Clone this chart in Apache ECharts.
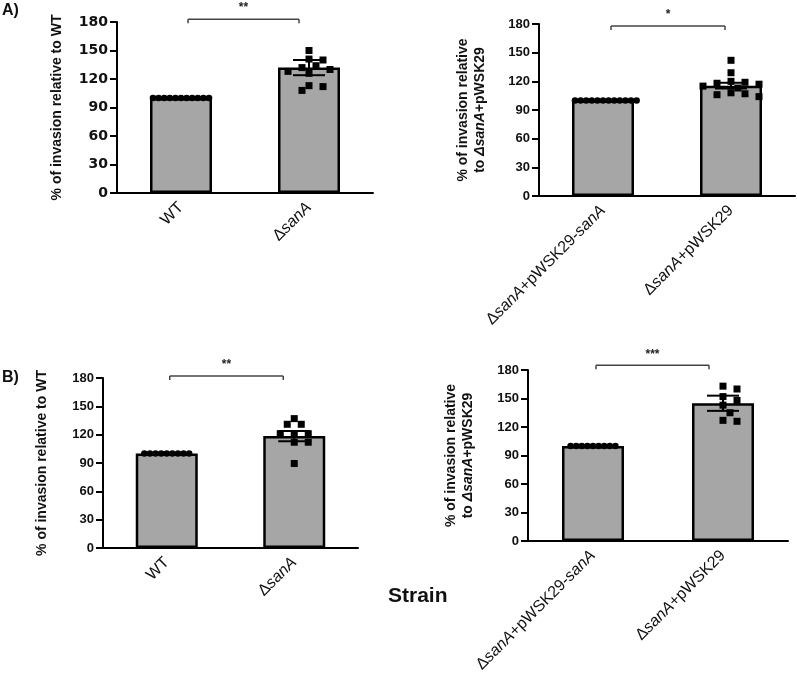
<!DOCTYPE html>
<html><head><meta charset="utf-8">
<script src="https://cdn.jsdelivr.net/npm/echarts@6/dist/echarts.min.js"></script>
<style>html,body{margin:0;padding:0;background:#fff}#c{width:797px;height:678px}</style>
</head><body><div id="c"></div>
<script>
// ---------- data ----------
const catsWT = ['WT', 'ΔsanA'];
const catsPl = ['ΔsanA+pWSK29-sanA', 'ΔsanA+pWSK29'];
const yTicksMax = 180;
const yTickStep = 30;

// Panel A left
const aLeftCtrl = [100,100,100,100,100,100,100,100,100,100,100];
const aLeftTrt  = [150,141,132,134,128,130,126,108,112,113,140];
const aLeftMean = [100,132];
const aLeftSem  = [0,8];
// Panel A right
const aRightCtrl = [100,100,100,100,100,100,100,100,100,100,100,100];
const aRightTrt  = [142,129,119,120,115,117,107,106,108,113,104,118];
const aRightMean = [100,115.5];
const aRightSem  = [0,3];
// Panel B left
const bLeftCtrl = [100,100,100,100,100,100,100,100,100];
const bLeftTrt  = [137,131,131,121,121,121,112,112,89.5];
const bLeftMean = [100,118.5];
const bLeftSem  = [0,5.5];
// Panel B right
const bRightCtrl = [100,100,100,100,100,100,100,100,100];
const bRightTrt  = [163,160,152,148,143,135,127,126];
const bRightMean = [100,145];
const bRightSem  = [0,8];

const sigLabels = ['**','*','**','***'];

// ---------- layout ----------
const FONT = 'Arial, "Liberation Sans", sans-serif';
const WIDE = '"DejaVu Sans", sans-serif';
const panels = [
  {grid:{left:117, top:22, width:256, height:171}, cats:catsWT, ctrl:aLeftCtrl, trt:aLeftTrt, mean:aLeftMean, sem:aLeftSem,
   tickFont:WIDE, tickSize:14,
   name:'{b|% of invasion relative to WT}', nameGap:51, br:{v:183, l:7, r:10}},
  {grid:{left:539, top:24, width:256, height:172}, cats:catsPl, ctrl:aRightCtrl, trt:aRightTrt, mean:aRightMean, sem:aRightSem,
   tickFont:FONT, tickSize:13,
   name:'{b|% of invasion relative}\n{b|to }{bi|Δ}{bi|sanA}{b|+pWSK29}', nameGap:50, br:{v:178, l:8, r:6}},
  {grid:{left:103, top:378, width:255, height:170}, cats:catsWT, ctrl:bLeftCtrl, trt:bLeftTrt, mean:bLeftMean, sem:bLeftSem,
   tickFont:FONT, tickSize:13,
   name:'{b|% of invasion relative to WT}', nameGap:52, br:{v:182, l:3, r:11}},
  {grid:{left:528, top:370, width:260, height:171}, cats:catsPl, ctrl:bRightCtrl, trt:bRightTrt, mean:bRightMean, sem:bRightSem,
   tickFont:FONT, tickSize:13,
   name:'{b|% of invasion relative}\n{b|to }{bi|Δ}{bi|sanA}{b|+pWSK29}', nameGap:51, br:{v:185, l:3, r:14}}
];

function catLabel(s){
  return s.split(/(sanA)/).filter(p=>p.length).map(p => p==='sanA' ? '{i|sanA}' : '{n|'+p+'}').join('');
}

// beeswarm offsets (pixel) computed from values
function swarm(vals, pxPerUnit, minDist, step){
  const placed = [];
  const out = new Array(vals.length);
  const order = vals.map((v,i)=>i).sort((a,b)=>vals[b]-vals[a]);
  for(const i of order){
    const y = vals[i]*pxPerUnit;
    for(let k=0;k<60;k++){
      const m = Math.ceil(k/2), sgn = (k%2===1)?1:-1;
      const ox = k===0?0:sgn*m*step;
      if(placed.every(p => Math.hypot(p[0]-ox, p[1]-y) >= minDist - 1e-6)){
        placed.push([ox,y]); out[i]=ox; break;
      }
    }
  }
  return out;
}

const grid=[], xAxis=[], yAxis=[], series=[];
panels.forEach((p,gi)=>{
  grid.push(p.grid);
  xAxis.push({type:'category', gridIndex:gi, data:p.cats,
    axisLine:{lineStyle:{color:'#000', width:2}},
    axisTick:{alignWithLabel:true, length:7, lineStyle:{color:'#000', width:2}},
    axisLabel:{rotate:45, margin:12, formatter: v=>catLabel(v),
      rich:{n:{fontFamily:FONT, fontSize:16, color:'#111'}, i:{fontFamily:FONT, fontSize:16, fontStyle:'italic', color:'#111'}}}
  });
  yAxis.push({type:'value', gridIndex:gi, min:0, max:yTicksMax, interval:yTickStep,
    name:p.name, nameLocation:'middle', nameGap:p.nameGap, nameRotate:90,
    nameTextStyle:{rich:{b:{fontFamily:FONT, fontSize:14, fontWeight:'bold', color:'#111', lineHeight:17},
                         bi:{fontFamily:FONT, fontSize:14, fontWeight:'bold', fontStyle:'italic', color:'#111', lineHeight:17}}},
    axisLine:{show:true, lineStyle:{color:'#000', width:2}},
    axisTick:{show:true, length:7, lineStyle:{color:'#000', width:2}},
    axisLabel:{fontFamily:p.tickFont, fontSize:p.tickSize, fontWeight:'bold', color:'#111', margin:9},
    splitLine:{show:false}
  });
  const pxPerUnit = p.grid.height/yTicksMax;
  series.push({type:'bar', xAxisIndex:gi, yAxisIndex:gi, data:p.mean, barWidth:62,
    itemStyle:{color:'#a6a6a6', borderColor:'#000', borderWidth:2.5}, z:2, silent:true});
  // error bars
  series.push({type:'custom', xAxisIndex:gi, yAxisIndex:gi, z:4,
    data:p.mean.map((m,i)=>[i,m,p.sem[i]]).filter(d=>d[2]>0),
    renderItem:(params,api)=>{
      const i=api.value(0), m=api.value(1), s=api.value(2);
      const t=api.coord([i,m+s]), b=api.coord([i,m-s]);
      const st={stroke:'#000', lineWidth:2};
      return {type:'group', children:[
        {type:'line', shape:{x1:t[0],y1:t[1],x2:b[0],y2:b[1]}, style:st},
        {type:'line', shape:{x1:t[0]-16,y1:t[1],x2:t[0]+16,y2:t[1]}, style:st},
        {type:'line', shape:{x1:b[0]-16,y1:b[1],x2:b[0]+16,y2:b[1]}, style:st}
      ]};
    }});
  // points
  const offC = swarm(p.ctrl, pxPerUnit, 5.6, 5.6);
  const offT = swarm(p.trt, pxPerUnit, 8, 7);
  const pts = p.ctrl.map((v,k)=>[0,v,offC[k],0]).concat(p.trt.map((v,k)=>[1,v,offT[k],1]));
  series.push({type:'custom', xAxisIndex:gi, yAxisIndex:gi, z:5, data:pts,
    renderItem:(params,api)=>{
      const c=api.coord([api.value(0),api.value(1)]);
      const x=c[0]+api.value(2), y=c[1];
      if(api.value(3)===0) return {type:'circle', shape:{cx:x, cy:y, r:3.3}, style:{fill:'#000'}};
      return {type:'rect', shape:{x:x-3.5, y:y-3.5, width:7, height:7}, style:{fill:'#000'}};
    }});
  // significance bracket
  series.push({type:'custom', xAxisIndex:gi, yAxisIndex:gi, z:5, clip:false,
    data:[[0,1,p.br.v,gi]],
    renderItem:(params,api)=>{
      const a=api.coord([api.value(0),api.value(2)]), b=api.coord([api.value(1),api.value(2)]);
      const x1=a[0]+p.br.l, x2=b[0]-p.br.r, y=a[1];
      const st={stroke:'#444', lineWidth:1.5};
      return {type:'group', children:[
        {type:'line', shape:{x1:x1,y1:y,x2:x2,y2:y}, style:st},
        {type:'line', shape:{x1:x1,y1:y,x2:x1,y2:y+4}, style:st},
        {type:'line', shape:{x1:x2,y1:y,x2:x2,y2:y+4}, style:st},
        {type:'text', x:(x1+x2)/2, y:y-5, style:{text:sigLabels[api.value(3)], fill:'#222', font:'bold 12px '+FONT, textAlign:'center', textVerticalAlign:'bottom'}}
      ]};
    }});
});

const chart = echarts.init(document.getElementById('c'), null, {renderer:'canvas'});
chart.setOption({
  animation:false, backgroundColor:'#fff',
  grid, xAxis, yAxis, series,
  graphic:[
    {type:'text', left:2, top:3, style:{text:'A)', font:'bold 16px '+FONT, fill:'#111'}},
    {type:'text', left:2, top:370, style:{text:'B)', font:'bold 16px '+FONT, fill:'#111'}},
    {type:'text', left:388, top:586, style:{text:'Strain', font:'bold 21px '+FONT, fill:'#111'}}
  ]
});
</script></body></html>
